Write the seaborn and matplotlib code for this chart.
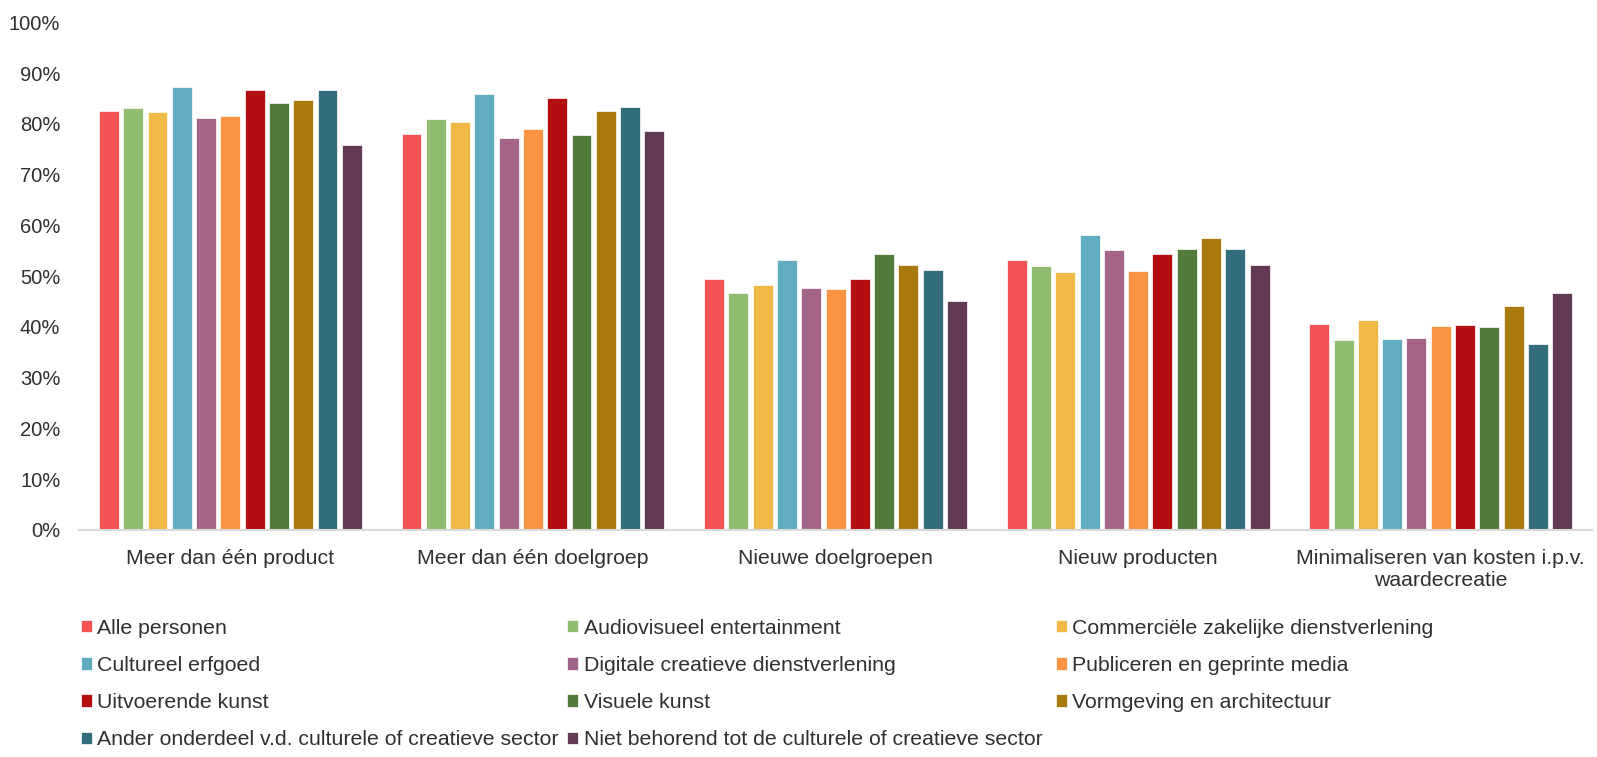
import matplotlib
matplotlib.use("Agg")
import matplotlib.pyplot as plt
import seaborn as sns
import pandas as pd
from matplotlib.ticker import PercentFormatter

# Categories on the x axis
doelen = [
    "Meer dan één product",
    "Meer dan één doelgroep",
    "Nieuwe doelgroepen",
    "Nieuw producten",
    "Minimaliseren van kosten i.p.v.\nwaardecreatie",
]

# Groups (hue)
groepen = [
    "Alle personen",
    "Audiovisueel entertainment",
    "Commerciële zakelijke dienstverlening",
    "Cultureel erfgoed",
    "Digitale creatieve dienstverlening",
    "Publiceren en geprinte media",
    "Uitvoerende kunst",
    "Visuele kunst",
    "Vormgeving en architectuur",
    "Ander onderdeel v.d. culturele of creatieve sector",
    "Niet behorend tot de culturele of creatieve sector",
]

kleuren = [
    "#F25252", "#8FBC6E", "#F0B946", "#62ACC1", "#A36489", "#F89441",
    "#B30F10", "#537B3A", "#A9790E", "#336D7B", "#633A55",
]

# Shares per group, one list per category
meer_product = [0.826, 0.831, 0.824, 0.872, 0.811, 0.816, 0.867, 0.842, 0.847, 0.867, 0.758]
meer_doelgroep = [0.781, 0.809, 0.803, 0.859, 0.773, 0.791, 0.851, 0.778, 0.826, 0.834, 0.786]
nieuwe_doelgroepen = [0.495, 0.467, 0.483, 0.531, 0.477, 0.475, 0.495, 0.544, 0.523, 0.513, 0.452]
nieuw_producten = [0.531, 0.520, 0.508, 0.581, 0.551, 0.511, 0.544, 0.554, 0.576, 0.554, 0.523]
minimaliseren = [0.406, 0.374, 0.414, 0.376, 0.379, 0.402, 0.404, 0.399, 0.442, 0.366, 0.467]

waarden = [meer_product, meer_doelgroep, nieuwe_doelgroepen, nieuw_producten, minimaliseren]

rows = []
for doel, vals in zip(doelen, waarden):
    for groep, v in zip(groepen, vals):
        rows.append({"doel": doel, "groep": groep, "aandeel": v})
df = pd.DataFrame(rows)

sns.set_theme(style="white")
plt.rcParams["font.family"] = ["Liberation Sans", "DejaVu Sans"]

tekst = "#303030"

fig = plt.figure(figsize=(15.97, 7.57), dpi=100)
ax = fig.add_axes([0.0495, 0.2999, 0.9474, 0.6704])

sns.barplot(
    data=df, x="doel", y="aandeel", hue="groep",
    order=doelen, hue_order=groepen, palette=kleuren, saturation=1,
    width=0.883, gap=0.18, edgecolor="white", linewidth=0.5,
    errorbar=None, ax=ax,
)

ax.set_ylim(0, 1)
ax.set_yticks([i / 10 for i in range(11)])
ax.yaxis.set_major_formatter(PercentFormatter(1.0, decimals=0))
ax.set_xlabel("")
ax.set_ylabel("")
ax.tick_params(axis="both", length=0, colors=tekst)
ax.tick_params(axis="x", pad=14, labelsize=15.3)
ax.tick_params(axis="y", pad=13.5, labelsize=14.5)
for lbl in ax.get_xticklabels():
    lbl.set_horizontalalignment("center")
    lbl.set_multialignment("center")

for side in ["top", "right", "left"]:
    ax.spines[side].set_visible(False)
ax.spines["bottom"].set_color("#d9d9d9")
ax.spines["bottom"].set_linewidth(1.5)
ax.grid(False)

handles, labels = ax.get_legend_handles_labels()
ax.get_legend().remove()

# Legend in three columns, filled row by row
col_x = [0.0507, 0.3553, 0.6614]
for c in range(3):
    idx = list(range(c, len(handles), 3))
    fig.legend(
        [handles[i] for i in idx], [labels[i] for i in idx],
        loc="upper left", bbox_to_anchor=(col_x[c], 0.1828),
        frameon=False, fontsize=15.3, labelcolor=tekst,
        handlelength=0.52, handleheight=0.52, handletextpad=0.24,
        labelspacing=0.86, borderaxespad=0, borderpad=0,
    )

fig.savefig("out.png", dpi=100)
